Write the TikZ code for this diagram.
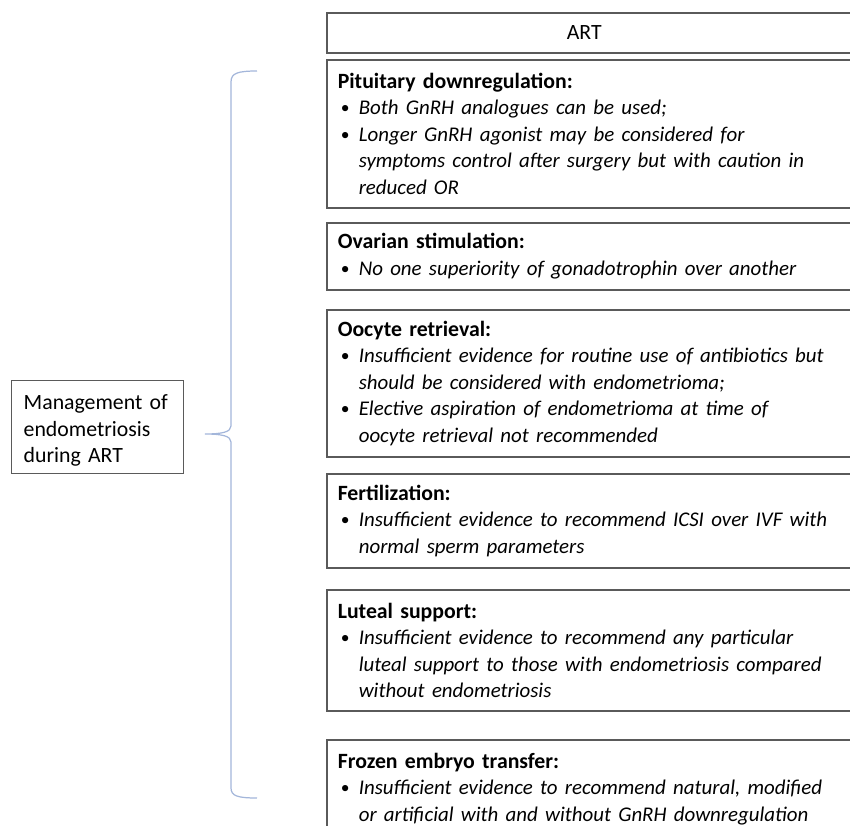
\documentclass[tikz,border=0pt]{standalone}
\usepackage{fontspec}
\setmainfont{Carlito}
\usepackage{xcolor}
\usetikzlibrary{positioning}
\definecolor{boxgray}{HTML}{5A5A5A}
\definecolor{braceblue}{HTML}{A3B6DA}
\newcommand{\artfont}{\fontsize{12.4}{15.1}\selectfont}
% bullet line and its continuation
\newcommand{\bl}[1]{\makebox[0.42cm][l]{\hspace{0.06cm}\raisebox{0.1ex}{\fontsize{10}{10}\selectfont\textbullet}}{\fontsize{11.9}{15.1}\selectfont\textit{#1}}}
\newcommand{\cl}[1]{\hspace*{0.42cm}{\fontsize{11.9}{15.1}\selectfont\textit{#1}}}
\tikzset{%
	art box/.style={
		draw=boxgray,
		line width=0.9pt,
		anchor=north west,
		inner xsep=0.22cm,
		inner ysep=0pt,
		text width=10.06cm,
		align=left,
		font=\artfont
	},
	left box/.style={
		draw=boxgray,
		line width=0.8pt,
		anchor=north west,
		inner xsep=0.24cm,
		inner ysep=0pt,
		text width=2.96cm,
		minimum height=1.86cm,
		align=left,
		font=\artfont
	},
	brace line/.style={
		draw=braceblue,
		line width=0.7pt
	},
}

\begin{document}
\begin{tikzpicture}[x=0.02cm, y=-0.02cm]
			\useasboundingbox (0,0) rectangle (850,826);
			\clip (0,0) rectangle (850,826);
			
			% Draw the header box
			\node[art box, align=center, minimum height=0.8cm] (art) at (326,12) {\hspace*{-0.2cm}ART};
			
			% Draw the steps of ART
			\node[art box, minimum height=2.96cm] (pituitary) at (326,59) {\textbf{Pituitary downregulation:}\\
				\bl{Both GnRH analogues can be used;}\\
				\bl{Longer GnRH agonist may be considered for}\\
				\cl{symptoms control after surgery but with caution in}\\
				\cl{reduced OR}};
			\node[art box, minimum height=1.34cm] (ovarian) at (326,222) {\textbf{Ovarian stimulation:}\\
				\bl{No one superiority of gonadotrophin over another}};
			\node[art box, minimum height=2.94cm] (oocyte) at (326,309) {\textbf{Oocyte retrieval:}\\
				\bl{Insufficient evidence for routine use of antibiotics but}\\
				\cl{should be considered with endometrioma;}\\
				\bl{Elective aspiration of endometrioma at time of}\\
				\cl{oocyte retrieval not recommended}};
			\node[art box, minimum height=1.88cm] (fertil) at (326,473) {\textbf{Fertilization:}\\
				\bl{Insufficient evidence to recommend ICSI over IVF with}\\
				\cl{normal sperm parameters}};
			\node[art box, minimum height=2.42cm] (luteal) at (326,589) {\textbf{Luteal support:}\\
				\bl{Insufficient evidence to recommend any particular}\\
				\cl{luteal support to those with endometriosis compared}\\
				\cl{without endometriosis}};
			\node[art box, minimum height=1.96cm] (frozen) at (326,739) {\textbf{Frozen embryo transfer:}\\
				\bl{Insufficient evidence to recommend natural, modified}\\
				\cl{or artificial with and without GnRH downregulation}};
			
			% Draw the left box
			\node[left box] (manage) at (11,380) {\\[-0.1cm]Management of\\ endometriosis\\ during ART};
			
			% Draw the brace
			\coordinate (brace top) at (257,71);
			\coordinate (brace tip) at (205,434);
			\coordinate (brace bottom) at (257,798);
			\draw[brace line] (brace top) .. controls (238,71) and (231,73) .. (231,82)
				-- (231,426) .. controls (231,432) and (222,434) .. (brace tip)
				.. controls (222,434) and (231,436) .. (231,442)
				-- (231,788) .. controls (231,796) and (238,798) .. (brace bottom);
			
		\end{tikzpicture}
\end{document}
